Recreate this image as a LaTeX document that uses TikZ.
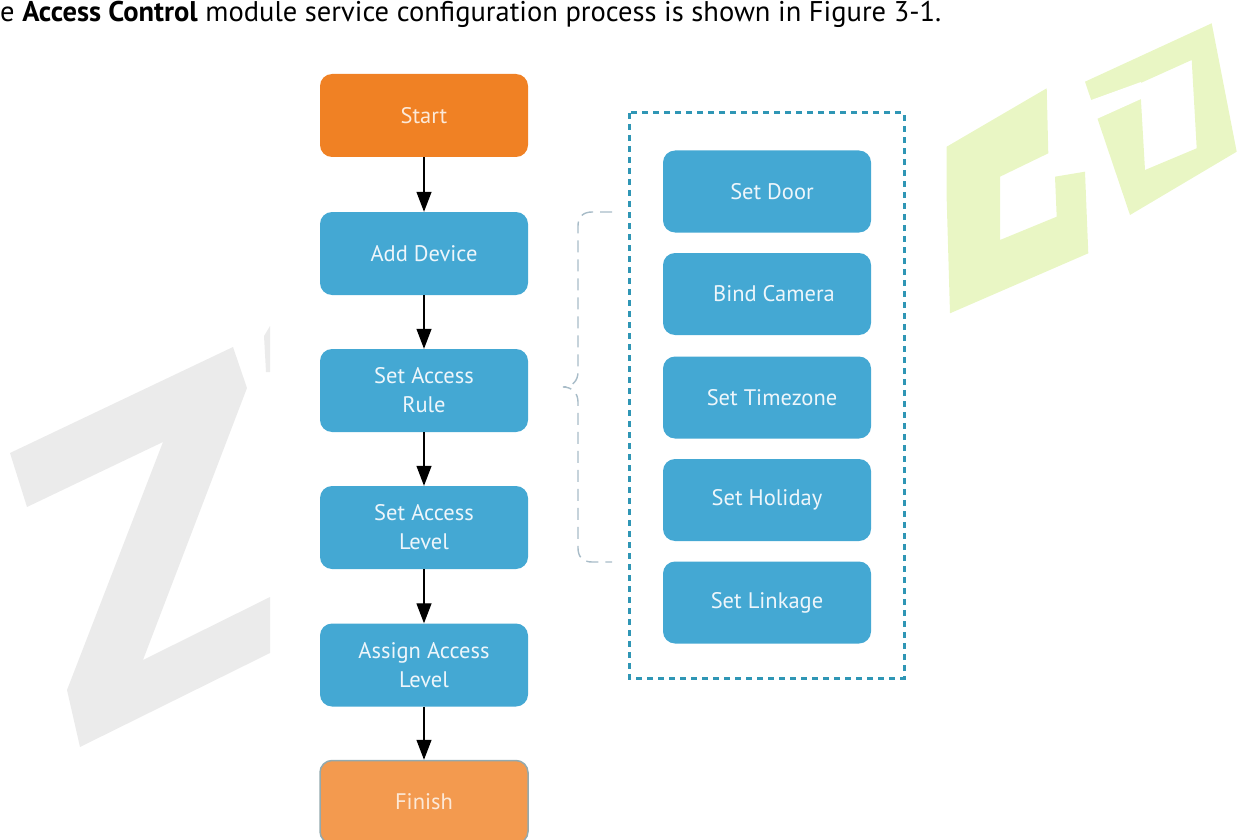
\documentclass[tikz,border=0pt]{standalone}
\usepackage{fontspec}
\setmainfont{PT Sans}
\usetikzlibrary{arrows.meta}
\definecolor{boxblue}{HTML}{44A8D3}
\definecolor{startorange}{HTML}{F08124}
\definecolor{finishorange}{HTML}{F39A4F}
\definecolor{finishborder}{HTML}{93A9AE}
\definecolor{dashteal}{HTML}{2F96B5}
\definecolor{bracegray}{HTML}{A8BCC8}
\definecolor{wmgray}{HTML}{EBEBEB}
\definecolor{wmgreen}{HTML}{E9F6C4}
\definecolor{boxtext}{HTML}{EEF6FB}
\definecolor{starttext}{HTML}{FCE9D8}
\begin{document}
\begin{tikzpicture}[x=1pt,y=-1pt,
  flowbox/.style={rounded corners=12pt, minimum width=208pt, minimum height=83pt,
    align=center, font=\fontsize{22.5}{29}\selectfont, text=boxtext, inner sep=0pt},
  bluebox/.style={flowbox, fill=boxblue},
  sidebox/.style={flowbox, fill=boxblue, minimum height=82pt},
  startbox/.style={flowbox, fill=startorange, text=starttext},
  finishbox/.style={flowbox, fill=finishorange, draw=finishborder, line width=1.5pt, text=starttext},
  flowarrow/.style={draw=black, line width=1.3pt, -{Triangle[width=15pt,length=20pt]}},
  groupframe/.style={draw=dashteal, line width=3pt, dash pattern=on 6pt off 5pt},
  bracepath/.style={draw=bracegray, line width=1.4pt, dash pattern=on 12pt off 7pt},
  wmz/.style={fill=wmgray},
  wmc/.style={fill=wmgreen}
]
\useasboundingbox (0,0) rectangle (1243,840);
\clip (0,0) rectangle (1243,840);

% watermark
\fill[wmz] (10,453) -- (233,347) -- (247,388) -- (143,660) -- (270,597) -- (270,653)
  -- (80,747) -- (67,690) -- (163,442) -- (27,507) -- cycle;
\fill[wmz] (264,336) -- (270,326) -- (270,372) -- (266,372) -- cycle;
\fill[wmc] (946.7,146.7) -- (1046.7,88.3) -- (1048.3,153.3) -- (1000,176.7) -- (1000,240)
  -- (1056.7,216.7) -- (1055,176.7) -- (1085,171.7) -- (1088.3,253.3) -- (950,313.3)
  -- (946.7,200) -- cycle;
\fill[wmc, even odd rule] (1085,81.7) -- (1211.7,23.3) -- (1236.7,151.7) -- (1130,215) -- cycle
  (1140,83.3) -- (1191.7,60) -- (1196.7,148.3) -- (1145,170) -- cycle;
\fill[white] (1083,103) -- (1141,82) -- (1141,99) -- (1090,122) -- cycle;

% header
\node[anchor=base west, inner sep=0pt, font=\fontsize{28.5}{32}\selectfont] (hdr) at (0,21.5)
  {e \textbf{Access Control} module service configuration process is shown in Figure 3-1.};

% main flow
\node[startbox]  (start)  at (424,115.5) {Start};
\node[bluebox]   (add)    at (424,253.5) {Add Device};
\node[bluebox]   (rule)   at (424,390.5) {Set Access\\Rule};
\node[bluebox]   (level)  at (424,527.5) {Set Access\\Level};
\node[bluebox]   (assign) at (424,665)   {Assign Access\\Level};
\node[finishbox] (finish) at (424,802)   {Finish};

\draw[flowarrow] (start) -- (add);
\draw[flowarrow] (add) -- (rule);
\draw[flowarrow] (rule) -- (level);
\draw[flowarrow] (level) -- (assign);
\draw[flowarrow] (assign) -- (finish);

% side group
\node[sidebox] (door)     at (767,191.5) {\hspace*{10pt}Set Door};
\node[sidebox] (camera)   at (767,294)   {\hspace*{14pt}Bind Camera};
\node[sidebox] (timezone) at (767,397.5) {\hspace*{10pt}Set Timezone};
\node[sidebox] (holiday)  at (767,500)   {Set Holiday};
\node[sidebox] (linkage)  at (767,602.5) {Set Linkage};

\draw[groupframe] (629,113) rectangle (904,678);

% brace
\draw[bracepath] (612,212) -- (592,212) .. controls (583,212) and (578,217) .. (578,226)
  -- (578,372) .. controls (578,381) and (572,387) .. (563,387)
  .. controls (572,387) and (578,393) .. (578,402)
  -- (578,548) .. controls (578,557) and (583,562) .. (592,562) -- (612,562);
\end{tikzpicture}
\end{document}
